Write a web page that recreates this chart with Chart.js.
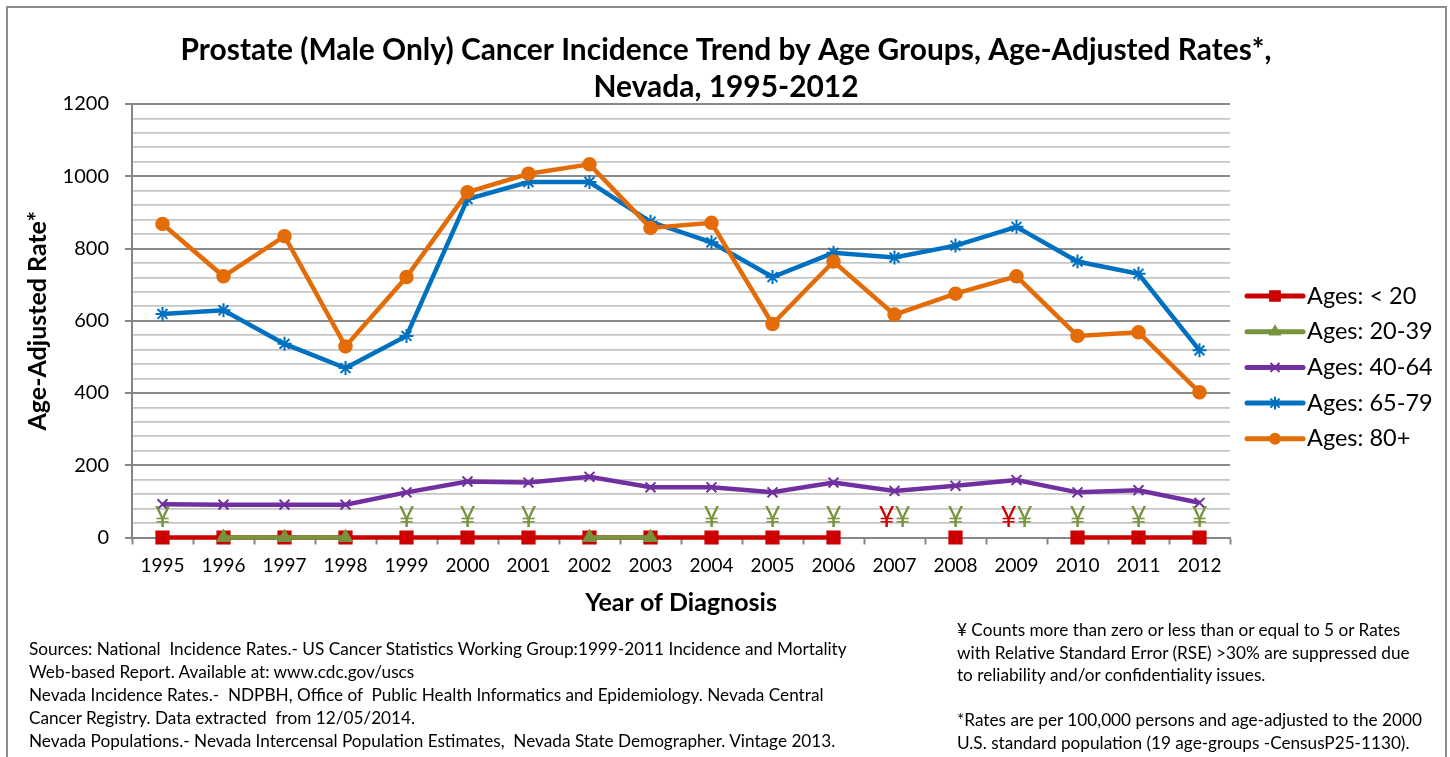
<!DOCTYPE html>
<html>
<head>
<meta charset="utf-8">
<script src="https://cdn.jsdelivr.net/npm/chart.js@4.4.1/dist/chart.umd.min.js"></script>
<style>
html,body{margin:0;padding:0;background:#fff;overflow:hidden;width:1450px;height:757px;}
#wrap{position:relative;width:1450px;height:757px;overflow:hidden;}
#frame{position:absolute;left:6px;top:6px;width:1441px;height:820px;border:2px solid #8c8c8c;box-sizing:border-box;pointer-events:none;}
canvas{position:absolute;left:0;top:0;}
.note{position:absolute;font-family:Lato, "Open Sans", sans-serif;font-size:17.2px;color:#000;white-space:nowrap;}
</style>
</head>
<body>
<div id="wrap">
<canvas id="c" width="1450" height="757"></canvas>
<div id="frame"></div>
<div class="note" id="srcNote" style="left:29px;top:637px;line-height:23px;">
Sources: National&nbsp; Incidence Rates.- US Cancer Statistics Working Group:1999-2011 Incidence and Mortality<br>
Web-based Report. Available at: www.cdc.gov/uscs<br>
Nevada Incidence Rates.-&nbsp; NDPBH, Office of&nbsp; Public Health Informatics and Epidemiology. Nevada Central<br>
Cancer Registry. Data extracted&nbsp; from 12/05/2014.<br>
Nevada Populations.- Nevada Intercensal Population Estimates,&nbsp; Nevada State Demographer. Vintage 2013.
</div>
<div class="note" id="rseNote" style="left:957px;top:619px;line-height:22.6px;">
¥ Counts more than zero or less than or equal to 5 or Rates<br>
with Relative Standard Error (RSE) &gt;30% are suppressed due<br>
to reliability and/or confidentiality issues.<br>
<br>
*Rates are per 100,000 persons and age-adjusted to the 2000<br>
U.S. standard population (19 age-groups -CensusP25-1130).
</div>
</div>
<script>
// ---- data ----
const years = ['1995','1996','1997','1998','1999','2000','2001','2002','2003','2004','2005','2006','2007','2008','2009','2010','2011','2012'];
const seriesLabels = ['Ages: < 20','Ages: 20-39','Ages: 40-64','Ages: 65-79','Ages: 80+'];
// null = suppressed (shown as ¥)
const agesUnder20 = [0,0,0,0,0,0,0,0,0,0,0,0,null,0,null,0,0,0];
const ages20to39  = [null,0,0,0,null,null,null,0,0,null,null,null,null,null,null,null,null,null];
const ages40to64  = [92,91,91,91,125,155,152,168,139,139,125,152,129,143,159,125,131,96];
const ages65to79  = [619,629,536,469,558,937,984,984,874,817,721,788,775,808,860,764,730,518];
const ages80plus  = [868,723,834,529,721,956,1007,1033,857,871,591,764,617,675,723,558,568,402];
const yMin = 0, yMax = 1200, yMinorStep = 40, yMajorStep = 200;

const titleLines = ['Prostate (Male Only) Cancer Incidence Trend by Age Groups, Age-Adjusted Rates*,','Nevada, 1995-2012'];
const yTitle = 'Age-Adjusted Rate*';
const xTitle = 'Year of Diagnosis';

const FONT = 'Lato, "Open Sans", sans-serif';
const AXIS_GRAY = '#868686';

function series(label, data, color, style, radius, order, extra) {
  return Object.assign({
    label, data, order,
    borderColor: color, backgroundColor: color,
    borderWidth: 4.5,
    pointStyle: style, pointRadius: radius, pointHoverRadius: radius,
    pointBackgroundColor: color, pointBorderColor: color, pointBorderWidth: 1.5,
    spanGaps: false, tension: 0, fill: false, clip: false
  }, extra || {});
}

const datasets = [
  series(seriesLabels[0], agesUnder20, '#cc0000', 'rect', 9, 5),
  series(seriesLabels[1], ages20to39, '#77933c', 'triangle', 7.5, 4),
  series(seriesLabels[2], ages40to64, '#7030a0', 'crossRot', 7, 3, {pointBorderWidth: 2}),
  series(seriesLabels[3], ages65to79, '#0070c0', 'star', 7, 2, {pointBorderWidth: 2}),
  series(seriesLabels[4], ages80plus, '#e36c09', 'circle', 6.5, 1)
];

// ---- plugins ----
function drawMarker(ctx, ds, x, y, scale) {
  const opts = {pointStyle: ds.pointStyle, radius: ds.pointRadius * scale, rotation: 0, borderWidth: ds.pointBorderWidth};
  if (Chart.helpers && Chart.helpers.drawPoint) {
    Chart.helpers.drawPoint(ctx, opts, x, y);
  }
}

const chartTitle = {
  id: 'chartTitle',
  afterDraw(chart, args, o) {
    const {ctx} = chart;
    ctx.save();
    ctx.font = o.font;
    ctx.fillStyle = '#000';
    ctx.textAlign = 'center';
    ctx.textBaseline = 'middle';
    const cx = chart.width / 2 + o.dx;
    o.lines.forEach((t, i) => ctx.fillText(t, cx, o.top + i * o.gap));
    ctx.restore();
  }
};

const sideLegend = {
  id: 'sideLegend',
  afterDraw(chart, args, o) {
    const {ctx, chartArea} = chart;
    chart.data.datasets.forEach((ds, i) => {
      const y = o.top + i * o.gap;
      const x0 = chartArea.right + o.left;
      ctx.save();
      ctx.strokeStyle = ds.borderColor;
      ctx.lineWidth = ds.borderWidth + 0.5;
      ctx.lineCap = 'round';
      ctx.beginPath(); ctx.moveTo(x0, y); ctx.lineTo(x0 + o.lineLen, y); ctx.stroke();
      ctx.fillStyle = ds.pointBackgroundColor;
      ctx.strokeStyle = ds.pointBorderColor;
      ctx.lineWidth = ds.pointBorderWidth;
      drawMarker(ctx, ds, x0 + o.lineLen / 2, y, o.markerScale);
      ctx.fillStyle = '#000';
      ctx.font = o.font;
      ctx.textBaseline = 'middle';
      ctx.textAlign = 'left';
      ctx.fillText(ds.label, x0 + o.lineLen + o.textGap, y);
      ctx.restore();
    });
  }
};

const suppressedMarks = {
  id: 'suppressedMarks',
  afterDatasetsDraw(chart, args, o) {
    const {ctx} = chart;
    const xs = chart.scales.x, ys = chart.scales.y;
    ctx.save();
    ctx.font = o.font;
    ctx.textAlign = 'center';
    ctx.textBaseline = 'middle';
    years.forEach((yr, i) => {
      const flagged = o.datasets.filter(d => chart.data.datasets[d].data[i] == null);
      flagged.forEach((d, k) => {
        const off = flagged.length > 1 ? (k === 0 ? -o.pairOffset : o.pairOffset) : 0;
        ctx.fillStyle = chart.data.datasets[d].borderColor;
        ctx.fillText('¥', xs.getPixelForValue(i) + off, ys.getPixelForValue(0) - o.lift);
      });
    });
    ctx.restore();
  }
};

new Chart(document.getElementById('c'), {
  type: 'line',
  data: {labels: years, datasets},
  plugins: [chartTitle, sideLegend, suppressedMarks],
  options: {
    responsive: false,
    animation: false,
    events: [],
    layout: {padding: {left: 0, right: 220, top: 104, bottom: 120}},
    plugins: {
      legend: {display: false},
      tooltip: {enabled: false},
      title: {display: false},
      chartTitle: {lines: titleLines, font: 'bold 29.9px ' + FONT, top: 50, gap: 37, dx: 1},
      sideLegend: {top: 296, gap: 35.7, left: 17, lineLen: 56, textGap: 4, markerScale: 0.8, font: '23.5px ' + FONT},
      suppressedMarks: {datasets: [0, 1], lift: 20, pairOffset: 8, font: '28px ' + FONT}
    },
    scales: {
      x: {
        type: 'category', offset: true,
        grid: {offset: true, drawOnChartArea: false, drawTicks: true, tickLength: 7, tickColor: AXIS_GRAY, tickWidth: 2},
        border: {display: true, color: AXIS_GRAY, width: 2},
        ticks: {color: '#000', font: {family: FONT, size: 19}, padding: 10, maxRotation: 0, autoSkip: false},
        title: {display: true, text: xTitle, color: '#000', font: {family: FONT, size: 25, weight: 'bold'}, padding: {top: 6, bottom: 19}},
        afterFit(s) { s.height = 99.5; }
      },
      y: {
        min: yMin, max: yMax,
        ticks: {
          stepSize: yMinorStep, autoSkip: false, color: '#000', padding: 16,
          font: {family: FONT, size: 20},
          callback: v => (v % yMajorStep === 0 ? String(v) : '')
        },
        grid: {
          drawTicks: true, tickLength: 7,
          color: c => (c.tick && c.tick.value % yMajorStep === 0 ? '#8a8a8a' : '#c6c6c6'),
          lineWidth: c => (c.tick && c.tick.value % yMajorStep === 0 ? 2 : 1.8),
          tickColor: c => (c.tick && c.tick.value % yMajorStep === 0 ? AXIS_GRAY : 'rgba(0,0,0,0)'),
          tickWidth: 2
        },
        border: {display: true, color: AXIS_GRAY, width: 2},
        title: {display: true, text: yTitle, color: '#000', font: {family: FONT, size: 25, weight: 'bold'}, padding: {top: 23, bottom: 0}},
        afterFit(s) { s.width = 132; }
      }
    }
  }
});
</script>
</body>
</html>
